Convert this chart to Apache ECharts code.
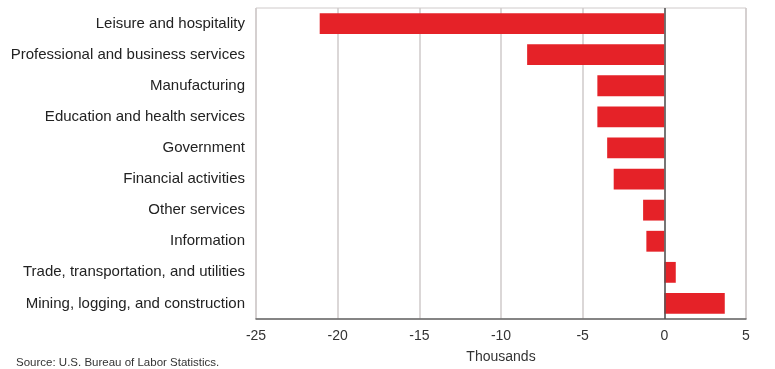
<!DOCTYPE html>
<html lang="en">
<head>
    <meta charset="UTF-8">
    <title>Employment change by industry</title>
    <script src="https://cdn.jsdelivr.net/npm/echarts@6/dist/echarts.min.js"></script>
    <style>
        html, body { margin: 0; padding: 0; background: #fff; }
    </style>
</head>
<body>
    <div id="main" style="width: 775px;height:369px;"></div>

    <script type="text/javascript">
        // industries, bottom to top as echarts draws a category y axis
        var industries = [
            'Mining, logging, and construction',
            'Trade, transportation, and utilities',
            'Information',
            'Other services',
            'Financial activities',
            'Government',
            'Education and health services',
            'Manufacturing',
            'Professional and business services',
            'Leisure and hospitality'
        ];
        // change, thousands
        var changes = [3.7, 0.7, -1.1, -1.3, -3.1, -3.5, -4.1, -4.1, -8.4, -21.1];

        var xMin = -25, xMax = 5, xStep = 5;

        var myChart = echarts.init(document.getElementById('main'));

        var font = 'Liberation Sans, Arial, sans-serif';

        var option = {
            animation: false,
            grid: {
                left: 256,
                right: 29,
                top: 8,
                bottom: 49,
                show: true,
                borderColor: '#cfcaca',
                borderWidth: 1
            },
            graphic: [{
                type: 'text',
                left: 16,
                bottom: 0,
                style: {
                    text: 'Source: U.S. Bureau of Labor Statistics.',
                    fill: '#333',
                    font: '11.5px ' + font
                }
            }],
            xAxis: {
                type: 'value',
                min: xMin,
                max: xMax,
                interval: xStep,
                name: 'Thousands',
                nameLocation: 'middle',
                nameGap: 31,
                nameTextStyle: { color: '#333', fontSize: 14, fontFamily: font },
                axisLine: { show: true, lineStyle: { color: '#666', width: 1.5 } },
                axisTick: { show: false },
                axisLabel: { color: '#333', fontSize: 14, fontFamily: font, margin: 10 },
                splitLine: { show: true, lineStyle: { color: '#cfcaca', width: 1.5 } }
            },
            yAxis: {
                type: 'category',
                data: industries,
                axisLine: { show: false, onZero: false },
                axisTick: { show: false },
                axisLabel: { color: '#222', fontSize: 15, fontFamily: font, margin: 11 },
                splitLine: { show: false }
            },
            series: [{
                type: 'bar',
                data: changes,
                barCategoryGap: '33%',
                itemStyle: { color: '#e52228' },
                markLine: {
                    symbol: 'none',
                    silent: true,
                    label: { show: false },
                    lineStyle: { color: '#555', width: 1.5, type: 'solid' },
                    data: [{ xAxis: 0 }]
                }
            }]
        };

        myChart.setOption(option);
    </script>
</body>
</html>
